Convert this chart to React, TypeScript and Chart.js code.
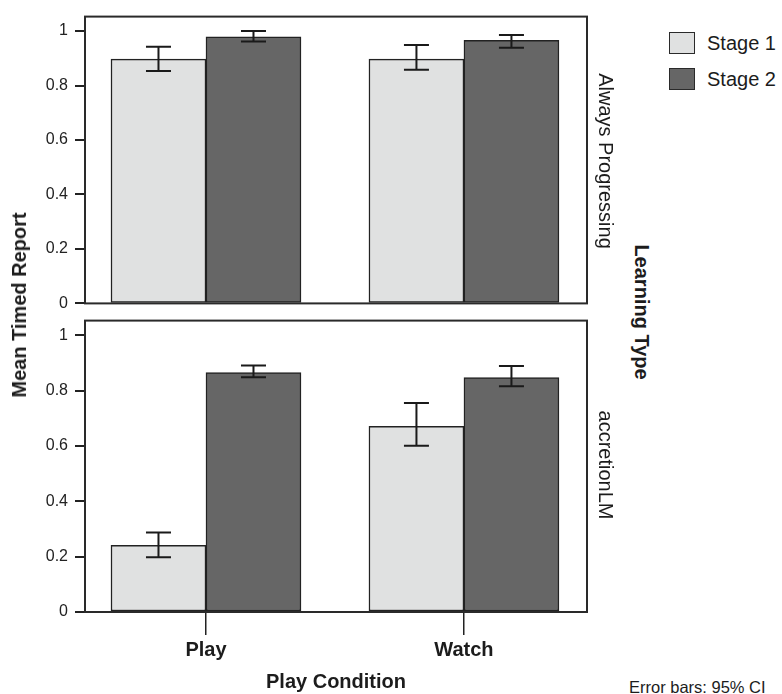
import React, { useEffect, useRef } from 'react';
import { Chart, registerables } from 'chart.js';

Chart.register(...registerables);

const FONT = "'Liberation Sans', Arial, Helvetica, sans-serif";

const categories = ['Play', 'Watch'];
const seriesNames = ['Stage 1', 'Stage 2'];
const panelNames = ['Always Progressing', 'accretionLM'];
const yTickValues = [0, 0.2, 0.4, 0.6, 0.8, 1];
const yTickLabels = ['0', '0.2', '0.4', '0.6', '0.8', '1'];

// Always Progressing panel
const alwaysStage1 = [0.897, 0.897];
const alwaysStage1Low = [0.853, 0.858];
const alwaysStage1High = [0.942, 0.949];
const alwaysStage2 = [0.979, 0.966];
const alwaysStage2Low = [0.962, 0.939];
const alwaysStage2High = [1.0, 0.985];

// accretionLM panel
const accretionStage1 = [0.241, 0.671];
const accretionStage1Low = [0.198, 0.601];
const accretionStage1High = [0.287, 0.755];
const accretionStage2 = [0.865, 0.847];
const accretionStage2Low = [0.848, 0.816];
const accretionStage2High = [0.891, 0.889];

const STAGE1_COLOR = '#e0e1e1';
const STAGE2_COLOR = '#666666';
const EDGE = '#222222';
const TEXT = '#1c1c1c';

type PanelProps = {
  top: number;
  height: number;
  showX: boolean;
  s1: number[];
  s2: number[];
  lo1: number[];
  hi1: number[];
  lo2: number[];
  hi2: number[];
};

function Panel({ top, height, showX, s1, s2, lo1, hi1, lo2, hi2 }: PanelProps) {
  const ref = useRef<HTMLCanvasElement | null>(null);

  useEffect(() => {
    if (!ref.current) return;
    const lows = [lo1, lo2];
    const highs = [hi1, hi2];
    const framePlugin = {
      id: 'frameAndErrors',
      afterDatasetsDraw(chart: any) {
        const { ctx, chartArea: a, scales } = chart;
        const y = scales.y;
        ctx.save();
        ctx.strokeStyle = '#2a2a2a';
        ctx.lineWidth = 2;
        ctx.strokeRect(a.left, a.top, a.right - a.left, a.bottom - a.top);
        ctx.strokeStyle = '#1a1a1a';
        ctx.lineWidth = 2;
        chart.data.datasets.forEach((_ds: any, di: number) => {
          const meta = chart.getDatasetMeta(di);
          meta.data.forEach((bar: any, i: number) => {
            const pl = y.getPixelForValue(lows[di][i]);
            const ph = y.getPixelForValue(highs[di][i]);
            const x = bar.x;
            const c = 12.5;
            ctx.beginPath();
            ctx.moveTo(x, pl);
            ctx.lineTo(x, ph);
            ctx.moveTo(x - c, pl);
            ctx.lineTo(x + c, pl);
            ctx.moveTo(x - c, ph);
            ctx.lineTo(x + c, ph);
            ctx.stroke();
          });
        });
        ctx.restore();
      },
    };

    const mk = (label: string, vals: number[], color: string) => ({
      label,
      data: categories.map((_, i) => ({ x: i, y: vals[i] })),
      backgroundColor: color,
      borderColor: EDGE,
      borderWidth: 1.5,
      borderSkipped: false,
      barThickness: 95,
    });

    const chart = new Chart(ref.current, {
      type: 'bar',
      data: {
        datasets: [mk(seriesNames[0], s1, STAGE1_COLOR), mk(seriesNames[1], s2, STAGE2_COLOR)],
      },
      options: {
        animation: false,
        responsive: false,
        devicePixelRatio: 1,
        layout: { padding: { left: 0, right: 13, top: 12, bottom: showX ? 0 : 12 } },
        plugins: { legend: { display: false }, tooltip: { enabled: false }, title: { display: false } },
        scales: {
          x: {
            type: 'linear',
            display: showX,
            min: -0.469,
            max: 1.477,
            offset: false,
            afterBuildTicks: (s: any) => {
              s.ticks = categories.map((_, i) => ({ value: i }));
            },
            afterFit: (s: any) => {
              s.height = showX ? 82 : 0;
            },
            ticks: {
              autoSkip: false,
              maxRotation: 0,
              padding: 3,
              color: TEXT,
              font: { family: FONT, size: 20, weight: 'bold' },
              callback: (v: any) => categories[Math.round(Number(v))] ?? '',
            },
            grid: { offset: false, drawOnChartArea: false, tickLength: 23, color: EDGE, lineWidth: 1.5 },
            border: { display: false },
            title: {
              display: true,
              text: 'Play Condition',
              color: TEXT,
              font: { family: FONT, size: 20, weight: 'bold' },
              padding: { top: 0, bottom: 0 },
            },
          },
          y: {
            type: 'linear',
            min: 0,
            max: 1.053,
            afterBuildTicks: (s: any) => {
              s.ticks = yTickValues.map((v) => ({ value: v }));
            },
            afterFit: (s: any) => {
              s.width = 85;
            },
            ticks: {
              autoSkip: false,
              padding: 7,
              color: '#222',
              font: { family: FONT, size: 16 },
              callback: (_v: any, i: number) => yTickLabels[i],
            },
            grid: { drawOnChartArea: false, tickLength: 10, color: EDGE, lineWidth: 2 },
            border: { display: false },
          },
        },
      } as any,
      plugins: [framePlugin],
    });
    return () => chart.destroy();
  }, []);

  return (
    <canvas
      ref={ref}
      width={600}
      height={height}
      style={{ position: 'absolute', left: 0, top, width: 600, height }}
    />
  );
}

function RotText({ cx, cy, deg, size, bold, children }: any) {
  return (
    <div
      style={{
        position: 'absolute',
        left: cx,
        top: cy,
        transform: `translate(-50%, -50%) rotate(${deg}deg)`,
        whiteSpace: 'nowrap',
        fontSize: size,
        fontWeight: bold ? 'bold' : 'normal',
        lineHeight: 1,
        color: TEXT,
      }}
    >
      {children}
    </div>
  );
}

export default function App() {
  const legendColors = [STAGE1_COLOR, STAGE2_COLOR];
  return (
    <div
      style={{
        position: 'fixed',
        left: 0,
        top: 0,
        width: 782,
        height: 694,
        background: '#ffffff',
        fontFamily: FONT,
        overflow: 'hidden',
      }}
    >
      <Panel
        top={0}
        height={320}
        showX={false}
        s1={alwaysStage1}
        s2={alwaysStage2}
        lo1={alwaysStage1Low}
        hi1={alwaysStage1High}
        lo2={alwaysStage2Low}
        hi2={alwaysStage2High}
      />
      <Panel
        top={304}
        height={390}
        showX={true}
        s1={accretionStage1}
        s2={accretionStage2}
        lo1={accretionStage1Low}
        hi1={accretionStage1High}
        lo2={accretionStage2Low}
        hi2={accretionStage2High}
      />
      <RotText cx={19} cy={305} deg={-90} size={20} bold>
        Mean Timed Report
      </RotText>
      <RotText cx={606} cy={161} deg={90} size={20}>
        {panelNames[0]}
      </RotText>
      <RotText cx={606} cy={465} deg={90} size={20}>
        {panelNames[1]}
      </RotText>
      <RotText cx={642} cy={312} deg={90} size={20} bold>
        Learning Type
      </RotText>
      {seriesNames.map((name, i) => (
        <React.Fragment key={name}>
          <div
            style={{
              position: 'absolute',
              left: 669,
              top: 32 + i * 36,
              width: 24,
              height: 20,
              background: legendColors[i],
              border: '1.5px solid #2a2a2a',
            }}
          />
          <div
            style={{
              position: 'absolute',
              left: 707,
              top: 32 + i * 36,
              height: 22,
              lineHeight: '22px',
              fontSize: 20,
              color: TEXT,
              whiteSpace: 'nowrap',
            }}
          >
            {name}
          </div>
        </React.Fragment>
      ))}
      <div
        style={{
          position: 'absolute',
          left: 629,
          top: 677,
          height: 20,
          lineHeight: '20px',
          fontSize: 16.5,
          color: TEXT,
          whiteSpace: 'nowrap',
        }}
      >
        Error bars: 95% CI
      </div>
    </div>
  );
}
